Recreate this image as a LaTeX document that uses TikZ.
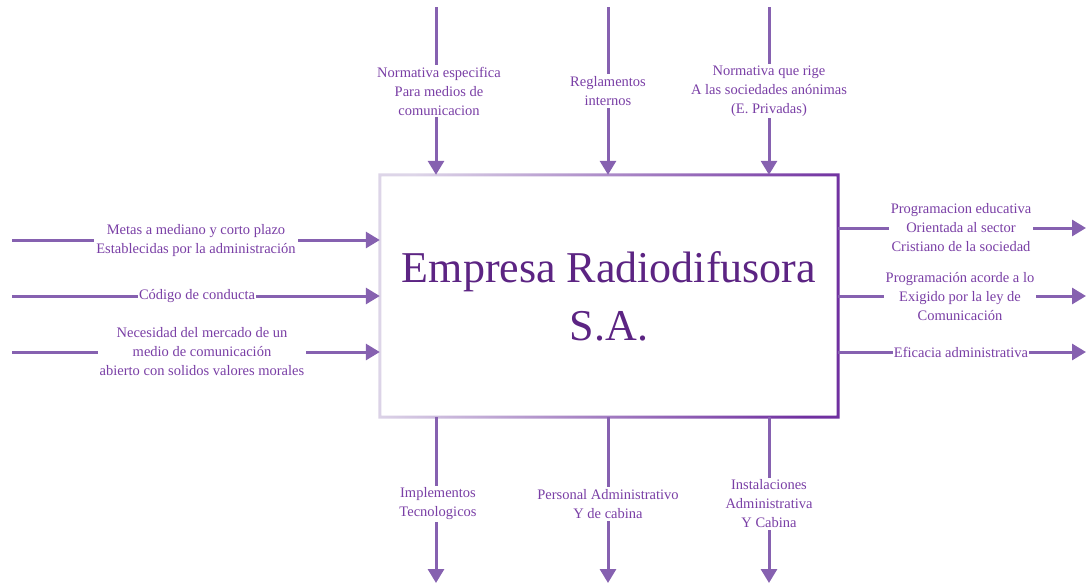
\documentclass[tikz,border=0pt]{standalone}
\usepackage{fontspec}
\setmainfont{Liberation Serif}
\usetikzlibrary{arrows.meta}
\definecolor{flechamorado}{HTML}{8661B0}
\definecolor{textomorado}{HTML}{7A3FA6}
\definecolor{titulomorado}{HTML}{5C2483}
\definecolor{bordeclaro}{HTML}{DDD5E8}
\definecolor{bordeoscuro}{HTML}{7030A0}
\tikzset{
	flecha/.style={-{Triangle[width=16pt,length=14pt]}, line width=3pt, draw=flechamorado},
	etiqueta/.style={fill=white, text=textomorado, align=center, inner sep=2pt, font=\fontsize{14.5}{19}\selectfont},
}
\begin{document}
\begin{tikzpicture}[x=1pt, y=-1pt]
	\useasboundingbox (0,0) rectangle (1087,584);
	% --- caja central ---
	\node[fill=white, minimum width=458pt, minimum height=242pt, inner sep=0pt] (caja) at (609,296) {};
	\shade[even odd rule, left color=bordeclaro, right color=bordeoscuro, shading angle=80]
		([shift={(-1.5pt,-1.5pt)}]caja.south west) rectangle ([shift={(1.5pt,1.5pt)}]caja.north east)
		([shift={(1.5pt,1.5pt)}]caja.south west) rectangle ([shift={(-1.5pt,-1.5pt)}]caja.north east);
	\node[text=titulomorado, align=center, font=\fontsize{44}{58}\selectfont] (titulo) at (caja.center) {Empresa Radiodifusora\\S.A.};
	% --- extremos libres ---
	\coordinate (c1) at (436,7);
	\coordinate (c2) at (608,7);
	\coordinate (c3) at (769,7);
	\coordinate (e1) at (12,240);
	\coordinate (e2) at (12,296);
	\coordinate (e3) at (12,352);
	\coordinate (s1) at (1086,228);
	\coordinate (s2) at (1086,296);
	\coordinate (s3) at (1086,352);
	\coordinate (m1) at (436,583);
	\coordinate (m2) at (608,583);
	\coordinate (m3) at (769,583);
	% --- flechas ---
	\foreach \i in {1,2,3} {
		\draw[flecha] (c\i) -- (c\i |- caja.north);
		\draw[flecha] (e\i) -- (e\i -| caja.west);
		\draw[flecha] (s\i -| caja.east) -- (s\i);
		\draw[flecha] (m\i |- caja.south) -- (m\i);
	}
	% --- controles ---
	\node[etiqueta] (control1) at (439,91) {Normativa especifica\\Para medios de\\comunicacion};
	\node[etiqueta] (control2) at (608,91) {Reglamentos\\internos};
	\node[etiqueta] (control3) at (769,91) {Normativa que rige\\A las sociedades anónimas\\(E. Privadas)};
	% --- entradas ---
	\node[etiqueta] (entrada1) at (196,241) {Metas a mediano y corto plazo\\Establecidas por la administración};
	\node[etiqueta, inner sep=1pt] (entrada2) at (197,296) {Código de conducta};
	\node[etiqueta] (entrada3) at (202,352) {Necesidad del mercado de un\\medio de comunicación\\abierto con solidos valores morales};
	% --- salidas ---
	\node[etiqueta] (salida1) at (961,228) {Programacion educativa\\Orientada al sector\\Cristiano de la sociedad};
	\node[etiqueta] (salida2) at (960,297) {Programación acorde a lo\\Exigido por la ley de\\Comunicación};
	\node[etiqueta, inner sep=1pt] (salida3) at (961,352) {Eficacia administrativa};
	% --- mecanismos ---
	\node[etiqueta] (mecanismo1) at (438,504) {Implementos\\Tecnologicos};
	\node[etiqueta] (mecanismo2) at (608,504) {Personal Administrativo\\Y de cabina};
	\node[etiqueta] (mecanismo3) at (769,504) {Instalaciones\\Administrativa\\Y Cabina};
\end{tikzpicture}
\end{document}
